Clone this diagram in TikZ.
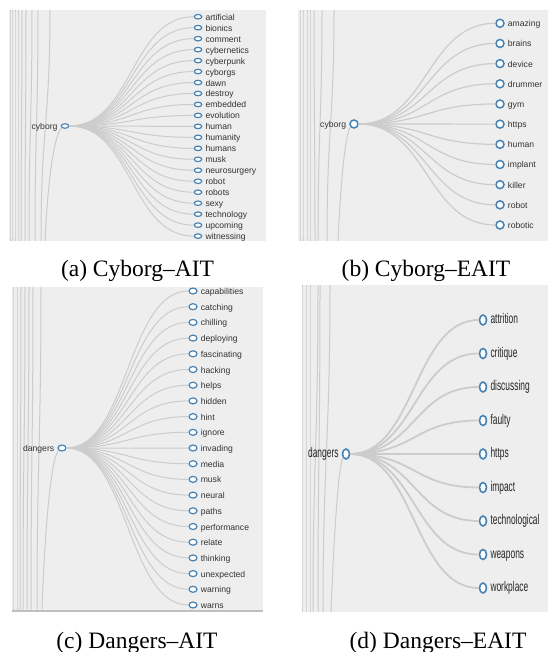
\documentclass[tikz,border=0pt]{standalone}
\usepackage{fontspec}
\setmainfont{Liberation Serif}
\newfontfamily\treefont{Liberation Sans}
\usepackage{tikz}
\usetikzlibrary{positioning,shapes.geometric}
\definecolor{steelblue}{HTML}{4682B4}
\definecolor{panelbg}{HTML}{EEEEEE}
\definecolor{linkgray}{HTML}{CCCCCC}
\newcommand{\narrow}[1]{\scalebox{0.6}[1]{#1}}

\begin{document}
\begin{tikzpicture}[
  x=1pt,y=-1pt,
  panel/.style={fill=panelbg,draw=none},
  link/.style={draw=linkgray,line width=1pt},
  dot/.style={ellipse,draw=steelblue,fill=white,inner sep=0pt},
  dota/.style={dot,line width=1.2pt,minimum width=7.5pt,minimum height=4.5pt},
  dotb/.style={dot,line width=1.5pt,minimum width=8pt,minimum height=8pt},
  dotc/.style={dot,line width=1.2pt,minimum width=8pt,minimum height=6pt},
  dotd/.style={dot,line width=1.6pt,minimum width=7pt,minimum height=10pt},
  lbl/.style={font=\treefont\fontsize{8.6}{10}\selectfont,text=black!80,inner sep=3pt,
    text height=0.7em,text depth=0pt},
  lbld/.style={font=\treefont\fontsize{14}{16}\selectfont,text=black!85,inner sep=3pt,
    text height=0.7em,text depth=0pt},
  leafa/.style={dota,label={[lbl]right:#1}},
  leafb/.style={dotb,label={[lbl]right:#1}},
  leafc/.style={dotc,label={[lbl]right:#1}},
  leafd/.style={dotd,label={[lbld]right:\narrow{#1}}},
  captext/.style={font=\fontsize{23.5}{28}\selectfont,anchor=base,inner sep=0pt}
  ]
  \useasboundingbox[fill=white] (0,0) rectangle (549,652);
  % (a) Cyborg-AIT
  \fill[panel] (9,10) rectangle (266,241);
  \foreach \t/\b in {10/10,12/12,15/15,18/18,22/21,26/25,32/29,38/35,50/41}
    \draw[link] (\t,10) .. controls (\t,120) and (\b,130) .. (\b,241);
  \node[dota,label={[lbl]left:cyborg}] (ra) at (65,126) {};
  \coordinate (pa) at (45,241);
  \draw[link] (pa) .. controls (48,175) and (55,132) .. (ra.south west);
  \foreach \w [count=\i] in {artificial,bionics,comment,cybernetics,cyberpunk,cyborgs,dawn,destroy,embedded,evolution,human,humanity,humans,musk,neurosurgery,robot,robots,sexy,technology,upcoming,witnessing}
    \node[leafa=\w] (a\i) at (198,{16.7+(\i-1)*10.97}) {};
  \foreach \i in {1,...,21}
    \draw[link] (ra.east) .. controls +(63,0) and +(-63,0) .. (a\i.west);
  \node[captext] (capa) at (137.5,276) {(a) Cyborg--AIT};
  % (b) Cyborg-EAIT
  \fill[panel] (298,10) rectangle (548,241);
  \foreach \t/\b in {300/300,303/303,307/307,310/310,314/315,322/318,334/327}
    \draw[link] (\t,10) .. controls (\t,120) and (\b,130) .. (\b,241);
  \node[dotb,label={[lbl]left:cyborg}] (rb) at (354,124) {};
  \coordinate (pb) at (338,241);
  \draw[link] (pb) .. controls (341,175) and (346,130) .. (rb.south west);
  \foreach \w [count=\i] in {amazing,brains,device,drummer,gym,https,human,implant,killer,robot,robotic}
    \node[leafb=\w] (b\i) at (500,{23.3+(\i-1)*20.17}) {};
  \foreach \i in {1,...,11}
    \draw[link,line width=1.2pt] (rb.east) .. controls +(69,0) and +(-69,0) .. (b\i.west);
  \node[captext] (capb) at (426,276) {(b) Cyborg--EAIT};
  % (c) Dangers-AIT
  \fill[panel] (12,286.5) rectangle (263,611.5);
  \fill[black!25] (12,609.5) rectangle (263,611.5);
  \foreach \t/\b in {13/13,17/17,21/20,25/23,29/27,33/31,41/37}
    \draw[link] (\t,286.5) .. controls (\t,440) and (\b,460) .. (\b,609.5);
  \node[dotc,label={[lbl]left:dangers}] (rc) at (62,448) {};
  \coordinate (pc) at (42,609.5);
  \draw[link] (pc) .. controls (45,520) and (52,455) .. (rc.south west);
  \foreach \w [count=\i] in {capabilities,catching,chilling,deploying,fascinating,hacking,helps,hidden,hint,ignore,invading,media,musk,neural,paths,performance,relate,thinking,unexpected,warning,warns}
    \node[leafc=\w] (c\i) at (193,{291+(\i-1)*15.7}) {};
  \foreach \i in {1,...,21}
    \draw[link] (rc.east) .. controls +(61,0) and +(-61,0) .. (c\i.west);
  \node[captext] (capc) at (137,648) {(c) Dangers--AIT};
  % (d) Dangers-EAIT
  \fill[panel] (301.5,285) rectangle (548,612);
  \foreach \t/\b in {302/302,306/306,310/310,318/313,320/318,330/323}
    \draw[link] (\t,285) .. controls (\t,440) and (\b,460) .. (\b,612);
  \node[dotd,label={[lbld]left:\narrow{dangers}}] (rd) at (346,454) {};
  \coordinate (pd) at (331,612);
  \draw[link] (pd) .. controls (334,530) and (339,462) .. (rd.south west);
  \foreach \w [count=\i] in {attrition,critique,discussing,faulty,https,impact,technological,weapons,workplace}
    \node[leafd=\w] (d\i) at (483,{320+(\i-1)*33.5}) {};
  \foreach \i in {1,...,9}
    \draw[link,line width=1.8pt] (rd.east) .. controls +(65,0) and +(-65,0) .. (d\i.west);
  \node[captext] (capd) at (438,648) {(d) Dangers--EAIT};
\end{tikzpicture}
\end{document}
